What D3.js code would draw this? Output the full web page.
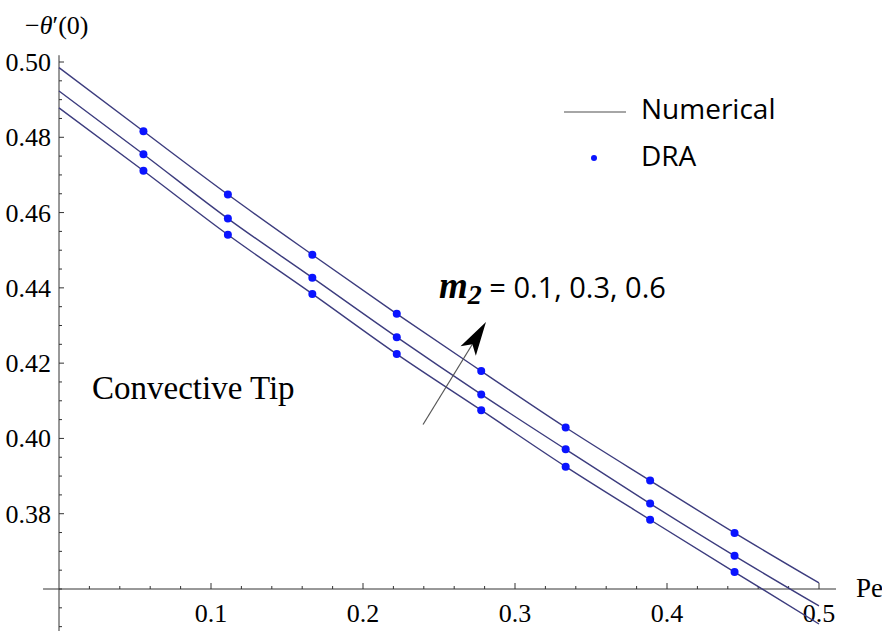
<!DOCTYPE html>
<html>
<head>
<meta charset="utf-8">
<script src="https://cdn.jsdelivr.net/npm/d3@7"></script>
<style>
  html, body { margin: 0; padding: 0; background: #fff; }
  svg { display: block; }
</style>
</head>
<body>
<div id="chart"></div>
<script>
// Pe grid of the numerical curves (ends + DRA positions)
const peLine = [0, 1/18, 2/18, 3/18, 4/18, 5/18, 6/18, 7/18, 8/18, 0.5];
// -theta'(0), numerical, for m2 = 0.1, 0.3, 0.6
const numM01 = [0.4878, 0.4711, 0.4541, 0.4384, 0.4224, 0.4075, 0.3925, 0.3784, 0.3645, 0.3507];
const numM03 = [0.4923, 0.4755, 0.4584, 0.4427, 0.4269, 0.4117, 0.3971, 0.3827, 0.3688, 0.3555];
const numM06 = [0.4985, 0.4816, 0.4648, 0.4488, 0.4331, 0.4179, 0.4029, 0.3888, 0.3749, 0.3616];

// DRA points
const peDots = [1/18, 2/18, 3/18, 4/18, 5/18, 6/18, 7/18, 8/18];
const draM01 = [0.4711, 0.4541, 0.4384, 0.4224, 0.4075, 0.3925, 0.3784, 0.3645];
const draM03 = [0.4755, 0.4584, 0.4427, 0.4269, 0.4117, 0.3971, 0.3827, 0.3688];
const draM06 = [0.4816, 0.4648, 0.4488, 0.4331, 0.4179, 0.4029, 0.3888, 0.3749];

const xTicks = [0.1, 0.2, 0.3, 0.4, 0.5];
const yTicks = [0.38, 0.40, 0.42, 0.44, 0.46, 0.48, 0.50];

const width = 882, height = 631;

const svg = d3.select('#chart')
  .append('svg')
  .attr('width', width)
  .attr('height', height);

// scales
const x = d3.scaleLinear().domain([0, 0.5]).range([59, 819]);
const y = d3.scaleLinear().domain([0.36, 0.50]).range([589, 62]);

const axisColor = '#333';
const serif = '"Liberation Serif", "Times New Roman", serif';

// y axis line
svg.append('line')
  .attr('x1', x(0)).attr('x2', x(0))
  .attr('y1', y(0.5018)).attr('y2', height)
  .attr('stroke', axisColor).attr('stroke-width', 1);

// x axis line
svg.append('line')
  .attr('x1', x(-0.0105)).attr('x2', x(0.5112))
  .attr('y1', y(0.36)).attr('y2', y(0.36))
  .attr('stroke', axisColor).attr('stroke-width', 1);

// y ticks (major + minor)
const yMinor = d3.range(0, 31).map(i => 0.35 + i * 0.005).filter(v => v <= 0.5001);
svg.append('g').selectAll('line')
  .data(yMinor)
  .enter()
  .append('line')
  .attr('x1', x(0))
  .attr('x2', d => x(0) + (yTicks.some(t => Math.abs(t - d) < 1e-6) ? 5 : 3))
  .attr('y1', d => y(d)).attr('y2', d => y(d))
  .attr('stroke', axisColor).attr('stroke-width', 1);

svg.append('g').selectAll('text')
  .data(yTicks)
  .enter()
  .append('text')
  .attr('x', x(0) - 8)
  .attr('y', d => y(d) + 9)
  .attr('text-anchor', 'end')
  .attr('font-family', serif)
  .attr('font-size', 26)
  .text(d => d3.format('.2f')(d));

// x ticks (major + minor)
const xMinor = d3.range(1, 26).map(i => i * 0.02);
svg.append('g').selectAll('line')
  .data(xMinor)
  .enter()
  .append('line')
  .attr('x1', d => x(d)).attr('x2', d => x(d))
  .attr('y1', y(0.36))
  .attr('y2', d => y(0.36) - (xTicks.some(t => Math.abs(t - d) < 1e-6) ? 6 : 3))
  .attr('stroke', axisColor).attr('stroke-width', 1);

svg.append('g').selectAll('text')
  .data(xTicks)
  .enter()
  .append('text')
  .attr('x', d => x(d))
  .attr('y', y(0.36) + 33)
  .attr('text-anchor', 'middle')
  .attr('font-family', serif)
  .attr('font-size', 26)
  .text(d => d3.format('.1f')(d));

// axis labels
svg.append('text')
  .attr('x', 856).attr('y', 597)
  .attr('font-family', serif).attr('font-size', 27)
  .text('Pe');

const yl = svg.append('text')
  .attr('x', 25).attr('y', 34)
  .attr('font-family', serif).attr('font-size', 26);
yl.append('tspan').text('\u2212');
yl.append('tspan').attr('font-style', 'italic').text('\u03b8');
yl.append('tspan').text('\u2032(0)');

// numerical curves
const lineGen = d3.line()
  .x((d, i) => x(peLine[i]))
  .y(d => y(d))
  .curve(d3.curveMonotoneX);

[numM01, numM03, numM06].forEach(s => {
  svg.append('path')
    .attr('d', lineGen(s))
    .attr('fill', 'none')
    .attr('stroke', '#3c3c7e')
    .attr('stroke-width', 1.4);
});

// DRA dots
[draM01, draM03, draM06].forEach(s => {
  svg.append('g').selectAll('circle')
    .data(s)
    .enter()
    .append('circle')
    .attr('cx', (d, i) => x(peDots[i]))
    .attr('cy', d => y(d))
    .attr('r', 4)
    .attr('fill', '#0a14ff');
});

// legend
const legendFont = '"Comic Sans MS", "Open Sans", sans-serif';
svg.append('line')
  .attr('x1', 564).attr('x2', 626)
  .attr('y1', 112).attr('y2', 112)
  .attr('stroke', '#888').attr('stroke-width', 1.5);
svg.append('text')
  .attr('x', 641).attr('y', 119)
  .attr('font-family', legendFont).attr('font-size', 28)
  .text('Numerical');
svg.append('circle')
  .attr('cx', 594).attr('cy', 158).attr('r', 3)
  .attr('fill', '#0a14ff');
svg.append('text')
  .attr('x', 641).attr('y', 166)
  .attr('font-family', legendFont).attr('font-size', 28)
  .text('DRA');

// convective tip label
svg.append('text')
  .attr('x', 92).attr('y', 399)
  .attr('font-family', serif).attr('font-size', 33)
  .text('Convective Tip');

// arrow annotation (data coords)
const tail = [0.2395, 0.4037], tip = [0.2809, 0.4309];
const ax0 = x(tail[0]), ay0 = y(tail[1]), ax1 = x(tip[0]), ay1 = y(tip[1]);
const ang = Math.atan2(ay1 - ay0, ax1 - ax0);
const headLen = 34, headW = 9, notch = 26;
const bx = ax1 - headLen * Math.cos(ang), by = ay1 - headLen * Math.sin(ang);
const nx = ax1 - notch * Math.cos(ang), ny = ay1 - notch * Math.sin(ang);
const px = -Math.sin(ang), py = Math.cos(ang);
svg.append('line')
  .attr('x1', ax0).attr('y1', ay0).attr('x2', nx).attr('y2', ny)
  .attr('stroke', '#555').attr('stroke-width', 1.2);
svg.append('path')
  .attr('d', `M${ax1},${ay1} L${bx + px * headW},${by + py * headW} L${nx},${ny} L${bx - px * headW},${by - py * headW} Z`)
  .attr('fill', '#000');

// m2 label
const ml = svg.append('text')
  .attr('x', 439).attr('y', 298);
ml.append('tspan')
  .attr('font-family', serif).attr('font-style', 'italic').attr('font-weight', 'bold')
  .attr('font-size', 37).text('m');
ml.append('tspan')
  .attr('font-family', serif).attr('font-style', 'italic').attr('font-weight', 'bold')
  .attr('font-size', 28).attr('dy', 6).text('2');
ml.append('tspan')
  .attr('font-family', '"Open Sans", sans-serif')
  .attr('font-size', 29).attr('dy', -6).text(' = 0.1, 0.3, 0.6');
</script>
</body>
</html>
